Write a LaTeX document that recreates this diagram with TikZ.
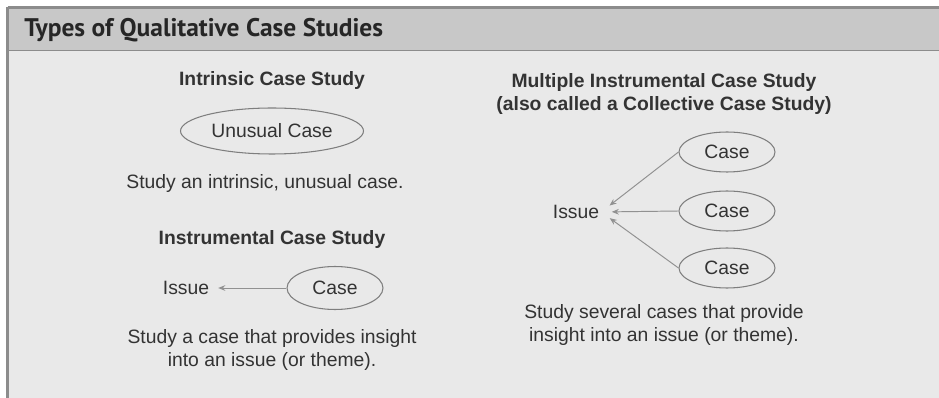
\documentclass[tikz,border=0pt]{standalone}
\usepackage{fontspec}
\setmainfont{Liberation Sans}
\newfontfamily\headfont{PT Sans}
\usetikzlibrary{arrows.meta,positioning,shapes.geometric}
\definecolor{qbody}{HTML}{E9E9E9}
\definecolor{qhead}{HTML}{C8C8C8}
\definecolor{qrule}{HTML}{8C8C8C}
\definecolor{qink}{HTML}{333333}
\definecolor{qline}{HTML}{7E7E7E}
\tikzset{
  ttl/.style={font=\fontsize{11}{13.5}\selectfont\bfseries,text=qink,align=center,inner sep=1pt},
  txt/.style={font=\fontsize{11}{13.5}\selectfont,text=qink,align=center,inner sep=1pt},
  cas/.style={ellipse,draw=qline,line width=0.6pt,font=\fontsize{11}{13.5}\selectfont,text=qink,inner sep=0pt,minimum width=96\pgflinewidth,minimum height=42\pgflinewidth},
  arr/.style={-{Stealth[length=4pt,width=3.2pt]},line width=0.55pt,draw=qline!85,shorten >=4pt},
}
\begin{document}
\begin{tikzpicture}[x=0.02cm,y=-0.02cm]
  \useasboundingbox (0,0) rectangle (939,398);
  % frame and header bar
  \fill[qbody] (8,51) rectangle (939,398);
  \fill[qhead] (8,8) rectangle (939,50);
  \draw[qrule,line width=1.2pt] (7.5,7.5) -- (939,7.5);
  \draw[qrule,line width=1pt] (8,50.5) -- (939,50.5);
  \draw[qrule,line width=1.2pt] (7.5,7) -- (7.5,398);
  \node[anchor=west,inner sep=0pt,font=\headfont\fontsize{14.5}{16}\selectfont\bfseries,text=black!85] (head) at (24,30) {Types of Qualitative Case Studies};
  % intrinsic
  \node[ttl] (t1) at (272,81) {Intrinsic Case Study};
  \node[cas,minimum width=3.66cm,minimum height=0.92cm] (u1) at (272,131) {Unusual Case};
  \node[txt] (d1) at (265,184) {Study an intrinsic, unusual case.};
  % instrumental
  \node[ttl] (t2) at (272,240) {Instrumental Case Study};
  \node[txt] (i1) at (186,288) {Issue};
  \node[cas,minimum width=1.92cm,minimum height=0.86cm] (c1) at (335,288) {Case};
  \draw[arr] (c1.west) -- (i1.east);
  \node[txt] (d2) at (272,350) {Study a case that provides insight\\into an issue (or theme).};
  % multiple instrumental
  \node[ttl] (t3) at (664,94) {Multiple Instrumental Case Study\\(also called a Collective Case Study)};
  \node[txt] (i2) at (576,212) {Issue};
  \foreach \n/\y in {a/152,b/211,c/268}
    \node[cas,minimum width=1.92cm,minimum height=0.8cm] (m\n) at (727,\y) {Case};
  \foreach \n in {a,b,c}
    \draw[arr,shorten >=6pt] (m\n.west) -- (i2.east);
  \node[txt] (d3) at (664,325) {Study several cases that provide\\insight into an issue (or theme).};
\end{tikzpicture}
\end{document}
